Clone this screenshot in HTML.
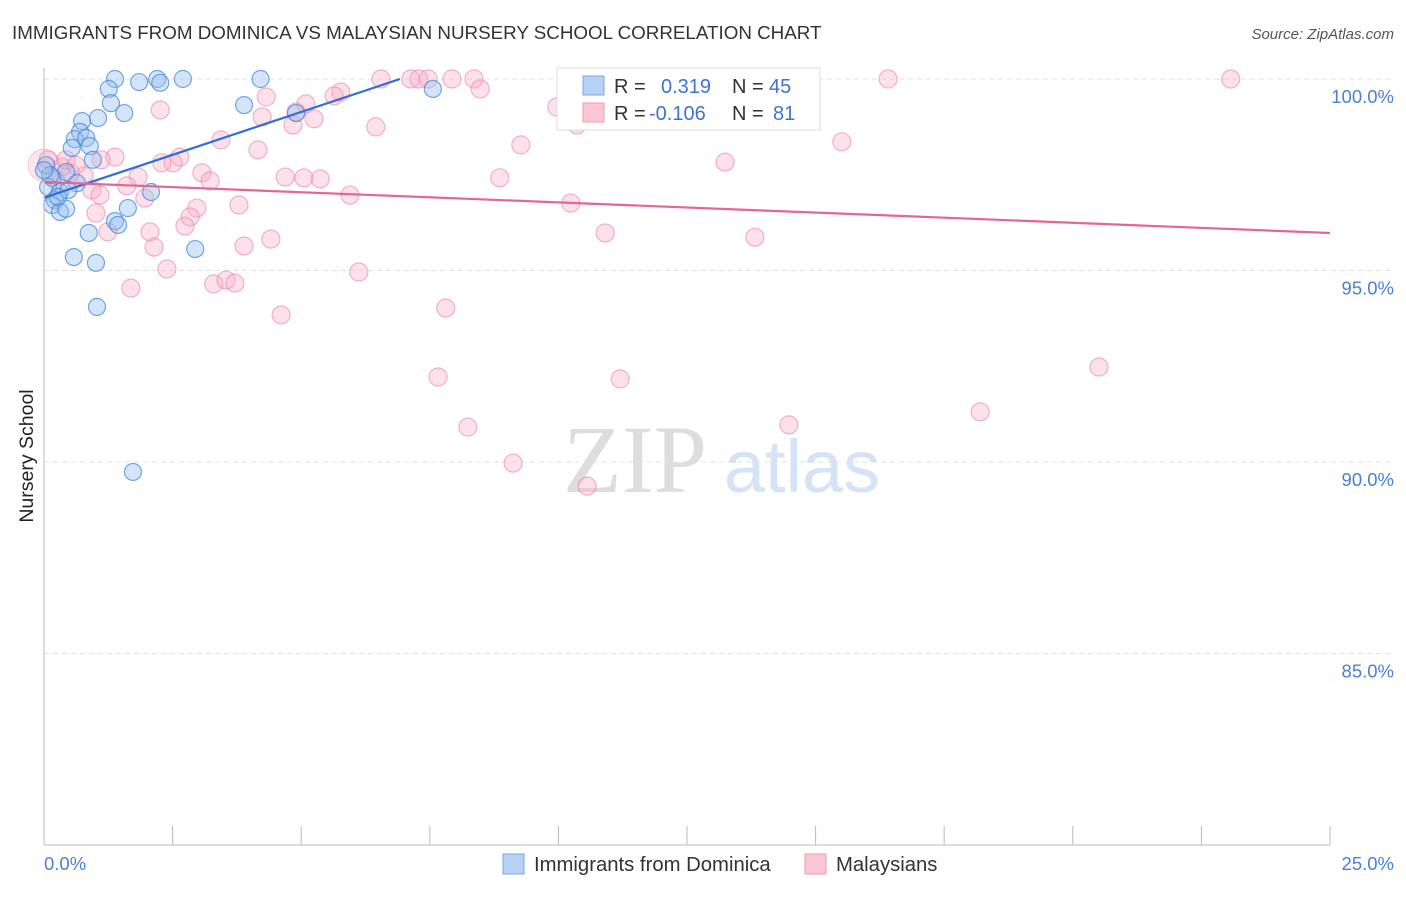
<!DOCTYPE html>
<html><head><meta charset="utf-8"><style>
body{margin:0;background:#fff;font-family:"Liberation Sans",sans-serif}
svg text{font-family:"Liberation Sans",sans-serif}
</style></head><body>
<svg width="1406" height="892" id="c">
<text x="12" y="39" font-size="18.8" fill="#333">IMMIGRANTS FROM DOMINICA VS MALAYSIAN NURSERY SCHOOL CORRELATION CHART</text>
<text x="1394" y="39" font-size="15" font-style="italic" fill="#555" text-anchor="end">Source: ZipAtlas.com</text>
<text x="33" y="456" font-size="19.5" fill="#222" transform="rotate(-90 33 456)" text-anchor="middle">Nursery School</text>
<text x="635" y="492" font-size="96" fill="#ddd" text-anchor="middle" style="font-family:'Liberation Serif',serif">ZIP</text>
<text x="802" y="492" font-size="74" fill="#d4e3f7" text-anchor="middle">atlas</text>
<g id="grid"></g><g id="pts"></g><g id="lines"></g>
<line x1="44" y1="68" x2="44" y2="845" stroke="#bbb"/>
<line x1="44" y1="845" x2="1330" y2="845" stroke="#bbb"/>
<text x="44" y="870" font-size="18.5" fill="#4a7fd4">0.0%</text>
<text x="1394" y="870" font-size="18.5" fill="#4a7fd4" text-anchor="end">25.0%</text>
<g>
<rect x="557" y="68" width="263" height="62" fill="#fff" stroke="#ddd"/>
<rect x="583" y="76" width="21" height="19" fill="#b8d2f5" stroke="#7aa7e6"/>
<text x="614" y="93" font-size="20" fill="#333">R =</text>
<text x="661" y="93" font-size="20" fill="#3f74d0">0.319</text>
<text x="732" y="93" font-size="20" fill="#333">N =</text>
<text x="769" y="93" font-size="20" fill="#3f74d0">45</text>
<rect x="583" y="103" width="21" height="19" fill="#fcc6d5" stroke="#f09ab3"/>
<text x="614" y="120" font-size="20" fill="#333">R =</text>
<text x="649" y="120" font-size="20" fill="#3f74d0">-0.106</text>
<text x="732" y="120" font-size="20" fill="#333">N =</text>
<text x="773" y="120" font-size="20" fill="#3f74d0">81</text>
</g>
<g>
<rect x="503" y="854" width="21" height="20" fill="#b8d2f5" stroke="#7aa7e6"/>
<text x="534" y="871" font-size="20.3" fill="#333">Immigrants from Dominica</text>
<rect x="805" y="854" width="21" height="20" fill="#fcc6d5" stroke="#f09ab3"/>
<text x="836" y="871" font-size="20.3" fill="#333">Malaysians</text>
</g>
</svg>
<script>
const yTicks=[100,95,90,85];
const yTickLabels=["100.0%","95.0%","90.0%","85.0%"];
const xTicks=[0,2.5,5,7.5,10,12.5,15,17.5,20,22.5,25];
const blueX=[1.38,1.85,2.20,2.26,2.70,4.21,7.56,1.26,1.30,1.56,1.05,0.74,0.70,0.60,0.82,0.54,0.89,3.89,4.90,0.95,0.43,0.64,0.16,0.08,0.31,0.47,0.21,0.16,0.31,0.43,1.63,2.08,1.38,0.87,2.94,0.58,1.01,1.03,1.73,0.04,0.12,0.27,0,10.81,1.44];
const blueY=[100,99.92,100,99.9,100,100,99.74,99.74,99.37,99.11,98.98,98.9,98.62,98.43,98.46,98.2,98.25,99.32,99.11,97.89,97.57,97.28,97.42,97.18,97.05,97.1,96.84,96.71,96.53,96.61,96.63,97.05,96.29,95.98,95.56,95.35,95.2,94.05,89.74,97.75,97.49,96.92,97.62,99.58,96.19];
const pinkX=[6.55,7.13,7.29,7.47,7.93,8.36,11.53,14.11,16.41,23.07,8.48,5.77,5.64,4.32,5.09,4.90,4.24,5.25,4.84,6.45,9.97,10.36,9.27,15.51,4.16,3.44,2.64,2.51,2.29,1.38,1.11,13.24,3.07,4.69,5.37,5.05,3.23,8.86,1.83,1.61,0.78,0.93,1.96,5.95,3.79,2.97,2.84,2.74,1.01,1.24,2.06,2.14,3.89,4.41,10.91,10.24,13.82,2.39,6.12,1.69,3.30,3.54,3.71,4.61,7.81,7.66,11.20,20.51,8.24,14.48,18.20,9.12,10.56,0.08,0.35,0.51,0.23,0.43,0.62,1.09,2.26];
const pinkY=[100,100,100,100,100,100,100,100,100,100,99.74,99.66,99.56,99.53,99.35,99.14,99.01,98.96,98.80,98.75,99.27,98.80,98.28,98.36,98.15,98.41,97.96,97.81,97.81,97.96,97.89,97.83,97.55,97.44,97.39,97.42,97.34,97.42,97.44,97.21,97.47,97.10,96.89,96.97,96.71,96.63,96.40,96.16,96.50,96.01,96.01,95.61,95.64,95.82,95.98,96.76,95.87,95.04,94.96,94.54,94.65,94.75,94.67,93.84,94.02,92.22,92.17,92.48,90.91,90.97,91.31,89.97,89.37,97.89,97.70,97.55,97.36,97.89,97.75,96.97,99.19];
const blueTrend=[96.9,0.448];
const pinkTrend=[97.31,-0.0532];
const NS='http://www.w3.org/2000/svg';
const sx=v=>44+v/25*1286;
const sy=v=>79+(100-v)*38.3;
function mk(t,a,p){const e=document.createElementNS(NS,t);for(const k in a)e.setAttribute(k,a[k]);document.getElementById(p).appendChild(e);return e;}
yTicks.forEach((t,i)=>{
 const l=mk('line',{x1:44,x2:1394,y1:sy(t),y2:sy(t),stroke:'#e2e2e2','stroke-dasharray':'5,4'},'grid');
 
 
 const tx=mk('text',{x:1394,y:sy(t)+24,'font-size':18.5,fill:'#4a7fd4','text-anchor':'end'},'grid');
 tx.textContent=yTickLabels[i];
 
 
});
xTicks.forEach(t=>{
 const l=mk('line',{x1:sx(t),x2:sx(t),y1:826,y2:845,stroke:'#bbb'},'grid');
 
 
});
const big=mk('circle',{cx:sx(0),cy:sy(97.75),r:16,fill:'rgba(248,170,195,0.3)',stroke:'rgba(235,130,165,0.4)'},'pts');


pinkX.forEach((x,i)=>{
 const c=mk('circle',{cx:sx(x),cy:sy(pinkY[i]),r:9,fill:'rgba(248,170,195,0.35)',stroke:'rgba(235,130,165,0.6)','stroke-width':1.2},'pts');
 
 
});
blueX.forEach((x,i)=>{
 const c=mk('circle',{cx:sx(x),cy:sy(blueY[i]),r:8.5,fill:'rgba(150,190,240,0.4)',stroke:'rgba(60,130,220,0.7)','stroke-width':1.2},'pts');
 
 
});
const bx2=(100-blueTrend[0])/blueTrend[1];
const bl=mk('line',{x1:sx(0),y1:sy(blueTrend[0]),x2:sx(bx2),y2:sy(100),stroke:'#2f6fd6','stroke-width':2.2},'lines');


const pl=mk('line',{x1:sx(0),y1:sy(pinkTrend[0]),x2:sx(25),y2:sy(pinkTrend[0]+25*pinkTrend[1]),stroke:'#e5668f','stroke-width':2.2},'lines');


</script>
</body></html>
